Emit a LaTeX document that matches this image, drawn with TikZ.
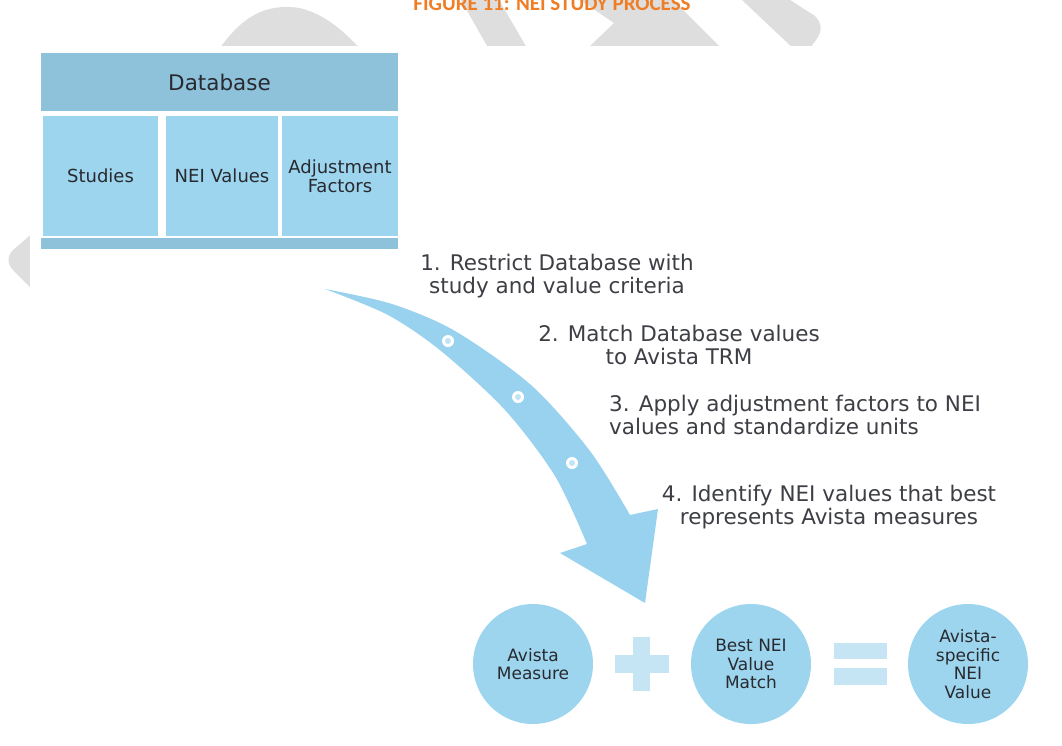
\documentclass[tikz,border=0pt]{standalone}
\usepackage{fontspec}
\setmainfont{DejaVu Sans}
\newfontfamily\titlefont{Carlito}
\definecolor{titleorange}{RGB}{240, 125, 35}
\definecolor{headblue}{RGB}{141, 194, 218}
\definecolor{cellblue}{RGB}{157, 213, 238}
\definecolor{swooshblue}{RGB}{152, 210, 238}
\definecolor{signblue}{RGB}{197, 229, 244}
\definecolor{markgray}{RGB}{222, 222, 222}
\definecolor{txtdark}{RGB}{40, 42, 48}
\usetikzlibrary{shapes, positioning, calc}

\tikzset{
  dbpart/.style={rectangle, inner sep=0pt, outer sep=0pt, text=txtdark, align=center,
    font=\fontsize{18}{19}\selectfont},
  steptext/.style={inner sep=0pt, text=txtdark!90, font=\fontsize{21.5}{23}\selectfont},
  result/.style={circle, fill=cellblue, minimum size=120pt, inner sep=0pt, align=center,
    text=txtdark, font=\fontsize{17}{18.7}\selectfont},
}

\begin{document}
\begin{tikzpicture}[x=1pt, y=-1pt]
  \useasboundingbox (0,0) rectangle (1062,745);

  % watermark letters behind the figure
  \fill[markgray] (212,60) .. controls (238,18) and (262,6) .. (290,7)
    .. controls (318,8) and (345,30) .. (370,60) -- cycle;
  \fill[markgray] (461,0) -- (499,0) -- (534,60) -- (495,60) -- cycle;
  \fill[markgray] (580,0) -- (614,23) -- (586,50) -- (723,50) -- (673,0) -- cycle;
  \fill[markgray] (742,0) -- (795,50) -- (808,50) .. controls (818,38) and (827,29) .. (815,16) -- (787,-2) -- cycle;
  \fill[markgray] (34,232) -- (13,250) .. controls (7,256) and (7,264) .. (13,270) -- (34,291) -- cycle;
  \fill[white] (30,46) rectangle (1062,745);

  \node[font=\titlefont\bfseries\fontsize{21}{21}\selectfont, text=titleorange, inner sep=0pt, anchor=base]
    (title) at (552,10.5) {FIGURE 11: NEI STUDY PROCESS};

  % database table
  \node[dbpart, fill=headblue, minimum width=357pt, minimum height=58pt,
    font=\fontsize{21.5}{23}\selectfont] (db) at (219.5,82) {Database};
  \node[dbpart, fill=cellblue, minimum width=115pt, minimum height=120pt] (studies) at (100.5,176) {Studies};
  \node[dbpart, fill=cellblue, minimum width=112pt, minimum height=120pt] (neivals) at (222,176) {NEI Values};
  \node[dbpart, fill=cellblue, minimum width=116pt, minimum height=120pt] (adjfac) at (340,176) {Adjustment\\Factors};
  \node[dbpart, fill=headblue, minimum width=357pt, minimum height=11pt] (dbfoot) at (219.5,243) {};

  % swoosh arrow
  \fill[swooshblue] plot[smooth] coordinates {(325,289) (392,304) (455,331) (531,385) (590,451) (630,515)}
    -- (658,509) -- (645,603) -- (560,553)
    -- plot[smooth] coordinates {(587,544) (555,476) (505,410) (441,351) (388,315) (325,289)} -- cycle;
  \foreach \p in {(448,341), (518,397), (572,463)} {
    \fill[white] \p circle (6pt);
    \fill[swooshblue!60] \p circle (3pt);
  }

  % steps
  \node[steptext, align=center, anchor=base] (step1) at (557,293) {1. Restrict Database with\\study and value criteria};
  \node[steptext, align=center, anchor=base] (step2) at (679,364) {2. Match Database values\\to Avista TRM};
  \node[steptext, align=left, anchor=base west] (step3) at (609,434) {3. Apply adjustment factors to NEI\\values and standardize units};
  \node[steptext, align=center, anchor=base] (step4) at (829,524) {4. Identify NEI values that best\\represents Avista measures};

  % result equation
  \node[result] (measure) at (533,664) {Avista\\Measure};
  \node[result] (bestmatch) at (751,664) {Best NEI\\Value\\Match};
  \node[result] (nei) at (968,664) {Avista-\\specific\\NEI\\Value};
  \fill[signblue] (615,655) rectangle (669,673);
  \fill[signblue] (633,637) rectangle (650,691);
  \fill[signblue] (834,643) rectangle (887,659);
  \fill[signblue] (834,668) rectangle (887,685);
\end{tikzpicture}
\end{document}
